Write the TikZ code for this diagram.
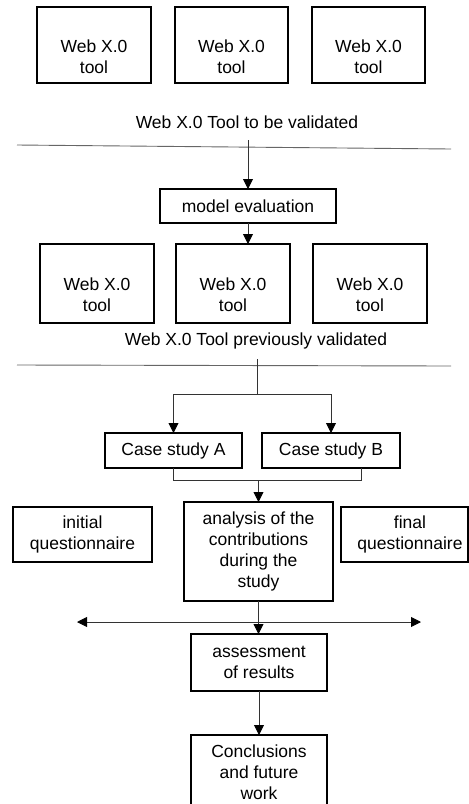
\documentclass[tikz,border=0pt]{standalone}
\usepackage{fontspec}
\setmainfont{Liberation Sans}
\usetikzlibrary{arrows.meta}
\begin{document}
\begin{tikzpicture}[x=1pt,y=-1pt,
  box/.style={draw=black,line width=1.2pt,inner sep=0pt,outer sep=0pt,font=\fontsize{17.5}{21}\selectfont,align=center},
  txt/.style={font=\fontsize{17.5}{21}\selectfont,align=center,inner sep=0pt},
  conn/.style={draw=black!80,line width=0.9pt},
  tip/.tip={Triangle[length=10pt,width=10pt,fill=black,color=black]},
  arr/.style={conn,-tip},
  sep/.style={draw=black!60,line width=0.9pt}]
\clip (0,0) rectangle (469,804);
\useasboundingbox (0,0) rectangle (469,804);

% top row
\node[box,minimum width=114,minimum height=76] (t1) at (94,45) {};
\node[box,minimum width=113,minimum height=76] (t2) at (231.5,45) {};
\node[box,minimum width=113,minimum height=76] (t3) at (368.5,45) {};
\node[txt] (tt1) at (94,56.5) {Web X.0\\tool};
\node[txt] (tt2) at (231.5,56.5) {Web X.0\\tool};
\node[txt] (tt3) at (368.5,56.5) {Web X.0\\tool};
\node[txt] (l1) at (247,122.5) {Web X.0 Tool to be validated};

\coordinate (s1a) at (17,145);
\coordinate (s1b) at (451,149);
\draw[sep] (s1a) -- (s1b);

\node[box,minimum width=176,minimum height=34] (me) at (248,206) {model evaluation};
\coordinate (a1) at (248,140);
\draw[arr] (a1) -- (me.north);

% second row
\node[box,minimum width=114,minimum height=79] (b1) at (97,283.5) {};
\node[box,minimum width=114,minimum height=79] (b2) at (233,283.5) {};
\node[box,minimum width=114,minimum height=79] (b3) at (370,283.5) {};
\node[txt] (bt1) at (97,294.5) {Web X.0\\tool};
\node[txt] (bt2) at (233,294.5) {Web X.0\\tool};
\node[txt] (bt3) at (370,294.5) {Web X.0\\tool};
\draw[arr] (me.south) -- (me.south |- b2.north);
\node[txt] (l2) at (256,341) {Web X.0 Tool previously validated};

\coordinate (s2a) at (17,365);
\coordinate (s2b) at (451,366);
\draw[sep] (s2a) -- (s2b);

% case studies
\node[box,minimum width=137,minimum height=35] (ca) at (173.5,450.5) {Case study A};
\node[box,minimum width=138,minimum height=35] (cb) at (331,450.5) {Case study B};
\coordinate (v0) at (257,359);
\coordinate (br) at (257,394);
\draw[conn] (v0) -- (br);
\draw[arr] (br) -| (ca.north);
\draw[arr] (br) -| (cb.north);

\coordinate (j1) at (173.5,480);
\coordinate (j2) at (361,480);
\draw[conn] (ca.south) -- (j1) -- (j2) -- (j2 |- cb.south);

% middle row
\node[box,minimum width=139,minimum height=55] (iq) at (82.5,534.5) {initial\\questionnaire};
\node[box,minimum width=149,minimum height=99] (an) at (258.5,551.5) {analysis of the\\contributions\\during the\\study};
\node[box,minimum width=127,minimum height=55] (fq) at (404.5,534.5) {};
\node[txt] (fqt) at (410,534.5) {final\\questionnaire};
\draw[arr] (an.north |- j1) -- (an.north);

% double arrow
\coordinate (hl) at (77,622);
\coordinate (hr) at (421,622);
\draw[conn,tip-tip] (hl) -- (hr);

% assessment & conclusions
\node[box,minimum width=136,minimum height=57] (as) at (259,662.5) {assessment\\of results};
\draw[arr] (an.south) -- (an.south |- as.north);
\node[box,minimum width=136,minimum height=100] (co) at (259,785) {};
\node[txt] (cot) at (259,772.5) {Conclusions\\and future\\work};
\draw[arr] (as.south) -- (co.north);
\end{tikzpicture}
\end{document}
